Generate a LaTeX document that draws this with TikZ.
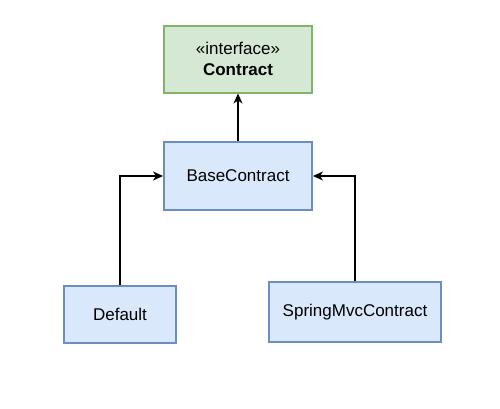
\documentclass[tikz,border=0pt]{standalone}
\usepackage{fontspec}
\setsansfont{Liberation Sans}
\usepackage{xcolor}
\usetikzlibrary{arrows.meta}
\definecolor{ifill}{HTML}{D5E8D4}
\definecolor{iline}{HTML}{82B366}
\definecolor{cfill}{HTML}{DAE8FC}
\definecolor{cline}{HTML}{6C8EBF}

\begin{document}
\begin{tikzpicture}[x=1pt,y=1pt,>={Stealth[length=10pt,width=9pt,inset=3pt]},line width=1.4pt,
    class node/.style={rectangle,draw=cline,fill=cfill,line width=2pt,inner sep=0pt,font=\sffamily\fontsize{17}{20}\selectfont},
    iface node/.style={class node,draw=iline,fill=ifill,align=center}]

            \useasboundingbox (0,0) rectangle (500,-408);

            \node[iface node, minimum width=148pt, minimum height=67pt] (contract) at (238,-59) {\guillemotleft interface\guillemotright\\[1pt]\textbf{Contract}};
            \node[class node, minimum width=148pt, minimum height=68pt] (base) at (238,-176) {BaseContract};
            \node[class node, minimum width=112pt, minimum height=57pt] (default) at (120,-314) {Default};
            \node[class node, minimum width=172pt, minimum height=60pt] (spring) at (355,-312) {SpringMvcContract};

            \draw[->] (base) to (contract);
            \draw[->] (default) |- (base);
            \draw[->] (spring) |- (base);

        \end{tikzpicture}
\end{document}
